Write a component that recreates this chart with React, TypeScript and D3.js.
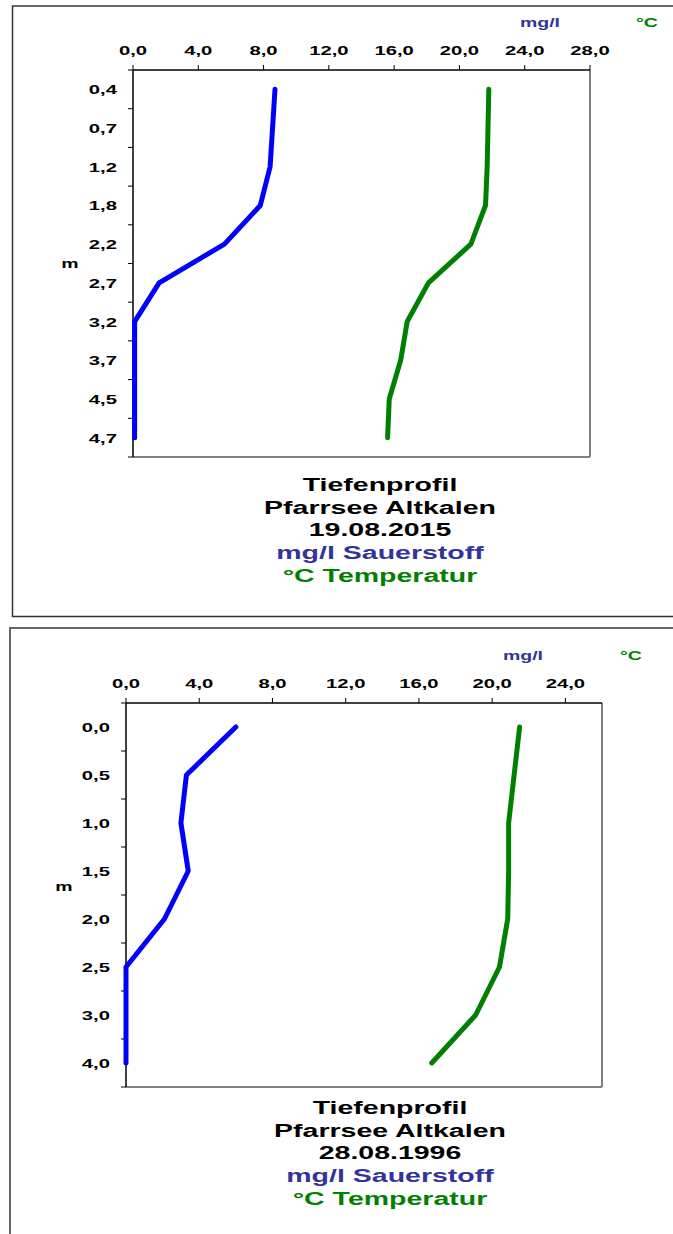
import React from "react";
import * as d3 from "d3";

const depths2015 = ["0,4", "0,7", "1,2", "1,8", "2,2", "2,7", "3,2", "3,7", "4,5", "4,7"];
const oxygen2015 = [8.7, 8.55, 8.4, 7.8, 5.6, 1.6, 0.1, 0.1, 0.1, 0.1];
const temp2015 = [21.8, 21.75, 21.7, 21.6, 20.7, 18.1, 16.8, 16.4, 15.7, 15.6];
const xTicks2015 = [0, 4, 8, 12, 16, 20, 24, 28];
const xMax2015 = 28;
const title2015 = ["Tiefenprofil", "Pfarrsee Altkalen", "19.08.2015"];

const depths1996 = ["0,0", "0,5", "1,0", "1,5", "2,0", "2,5", "3,0", "4,0"];
const oxygen1996 = [6.0, 3.3, 3.0, 3.4, 2.1, 0, 0, 0];
const temp1996 = [21.5, 21.2, 20.9, 20.9, 20.85, 20.4, 19.1, 16.7];
const xTicks1996 = [0, 4, 8, 12, 16, 20, 24];
const xMax1996 = 26;
const title1996 = ["Tiefenprofil", "Pfarrsee Altkalen", "28.08.1996"];

const legendOxygen = "mg/l Sauerstoff";
const legendTemp = "°C Temperatur";
const unitOxygen = "mg/l";
const unitTemp = "°C";
const depthUnit = "m";

const FONT = "'Liberation Sans', Arial, sans-serif";
const SX = 1.5;
const BLUE_TXT = "#333399";
const GREEN = "#008000";
const fmt = (v: number) => d3.format(".1f")(v).replace(".", ",");

function T({ x, y, children, size, fill = "#000", anchor = "middle" }: any) {
  return (
    <text
      transform={`translate(${x},${y}) scale(${SX},1)`}
      fontFamily={FONT}
      fontWeight="bold"
      fontSize={size}
      fill={fill}
      textAnchor={anchor}
    >
      {children}
    </text>
  );
}

function Chart({ depths, oxygen, temp, xTicks, xMax, title, left, right, top, bottom, unitY, mgX, cX, mX, mY, titleX, titleY }: any) {
  const x = d3.scaleLinear().domain([0, xMax]).range([left, right]);
  const y = d3.scaleBand<string>().domain(depths).range([top, bottom]).padding(0);
  const cy = (d: string) => (y(d) as number) + y.bandwidth() / 2;
  const line = d3
    .line<number>()
    .x((v) => x(v))
    .y((_, i) => cy(depths[i]));
  const boundaries = depths.map((d: string) => (y(d) as number) + y.bandwidth());
  return (
    <g>
      <line x1={right} y1={top} x2={right} y2={bottom} stroke="#808080" strokeWidth={2} />
      <line x1={left} y1={bottom} x2={right} y2={bottom} stroke="#808080" strokeWidth={2} />
      <line x1={left} y1={top} x2={right} y2={top} stroke="#000" strokeWidth={1.5} />
      <line x1={left} y1={top} x2={left} y2={bottom} stroke="#000" strokeWidth={1.5} />
      {xTicks.map((t: number) => (
        <g key={t}>
          <line x1={x(t)} x2={x(t)} y1={top} y2={top - 5} stroke="#000" strokeWidth={1} />
          <T x={x(t)} y={top - 15} size={13.5}>{fmt(t)}</T>
        </g>
      ))}
      <line x1={left - 5} x2={left} y1={top} y2={top} stroke="#000" strokeWidth={1} />
      {boundaries.map((b: number, i: number) => (
        <line key={i} x1={left - 5} x2={left} y1={b} y2={b} stroke="#000" strokeWidth={1} />
      ))}
      {depths.map((d: string) => (
        <T key={d} x={left - 16} y={cy(d) + 5} size={13.5} anchor="end">{d}</T>
      ))}
      <T x={mX} y={mY} size={13}>{unitY}</T>
      <T x={mgX} y={top - 43} size={13} fill={BLUE_TXT}>{unitOxygen}</T>
      <T x={cX} y={top - 43} size={13} fill={GREEN}>{unitTemp}</T>
      <path d={line(oxygen) || ""} fill="none" stroke="#0000ff" strokeWidth={5} strokeLinecap="round" strokeLinejoin="round" />
      <path d={line(temp) || ""} fill="none" stroke={GREEN} strokeWidth={5} strokeLinecap="round" strokeLinejoin="round" />
      {title.map((s: string, i: number) => (
        <T key={i} x={titleX} y={titleY + i * 22.7} size={19}>{s}</T>
      ))}
      <T x={titleX} y={titleY + 3 * 22.7} size={19} fill={BLUE_TXT}>{legendOxygen}</T>
      <T x={titleX} y={titleY + 4 * 22.7} size={19} fill={GREEN}>{legendTemp}</T>
    </g>
  );
}

export default function App() {
  return (
    <svg
      width={673}
      height={1234}
      style={{ position: "absolute", left: 0, top: 0, background: "#fff" }}
    >
      <rect x={0} y={0} width={673} height={1234} fill="#fff" />
      <path d="M680,616.5 H12.5 V6 H680" fill="none" stroke="#333" strokeWidth={1.5} />
      <path d="M10,1240 V628 H680" fill="none" stroke="#666" strokeWidth={2} />
      <Chart
        depths={depths2015}
        oxygen={oxygen2015}
        temp={temp2015}
        xTicks={xTicks2015}
        xMax={xMax2015}
        title={title2015}
        left={133}
        right={590}
        top={70}
        bottom={457}
        unitY={depthUnit}
        mgX={540}
        cX={647}
        mX={70}
        mY={268}
        titleX={380}
        titleY={491}
      />
      <Chart
        depths={depths1996}
        oxygen={oxygen1996}
        temp={temp1996}
        xTicks={xTicks1996}
        xMax={xMax1996}
        title={title1996}
        left={126}
        right={602}
        top={703}
        bottom={1087}
        unitY={depthUnit}
        mgX={523}
        cX={631}
        mX={64}
        mY={891}
        titleX={390}
        titleY={1114}
      />
    </svg>
  );
}
